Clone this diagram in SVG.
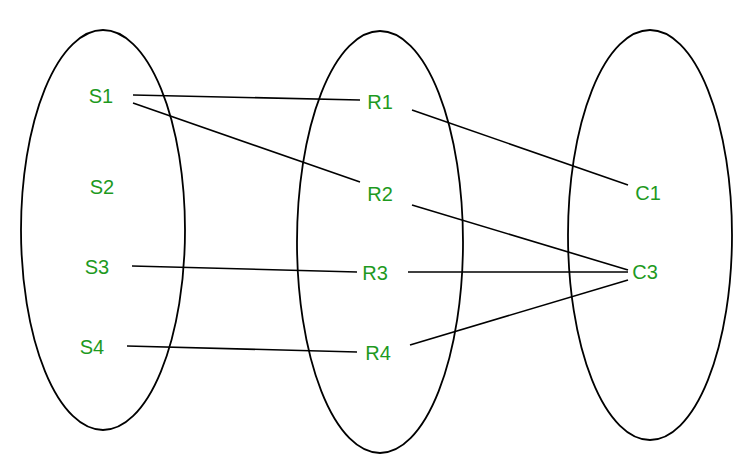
<svg xmlns="http://www.w3.org/2000/svg" width="754" height="459" viewBox="0 0 754 459">
<style>
.e{fill:none;stroke:#000;stroke-width:1.8}
.c line{stroke:#000;stroke-width:1.6}
text{font-family:"Liberation Sans",Arial,sans-serif;font-size:20px;fill:#1e9a1e;text-anchor:middle;dominant-baseline:central}
</style>
<rect width="754" height="459" fill="#fff"/>
<g id="setS"><ellipse class="e" cx="103" cy="230" rx="82" ry="200"/></g>
<g id="setR"><ellipse class="e" cx="380" cy="242" rx="83" ry="211"/></g>
<g id="setC"><ellipse class="e" cx="650" cy="235" rx="82" ry="205"/></g>
<g class="c" id="connectors">
<line x1="133" y1="95" x2="360" y2="100"/>
<line x1="133" y1="103" x2="360" y2="182"/>
<line x1="412" y1="110" x2="628" y2="185"/>
<line x1="412" y1="205" x2="628" y2="270"/>
<line x1="132" y1="266" x2="357" y2="272"/>
<line x1="408" y1="272" x2="628" y2="272"/>
<line x1="127" y1="346" x2="357" y2="352"/>
<line x1="410" y1="345" x2="628" y2="280"/>
</g>
<g id="S1"><text x="101" y="96">S1</text></g>
<g id="S2"><text x="102" y="187">S2</text></g>
<g id="S3"><text x="97" y="267">S3</text></g>
<g id="S4"><text x="92" y="347">S4</text></g>
<g id="R1"><text x="380" y="102">R1</text></g>
<g id="R2"><text x="380" y="194">R2</text></g>
<g id="R3"><text x="375" y="273">R3</text></g>
<g id="R4"><text x="378" y="353">R4</text></g>
<g id="C1"><text x="648" y="193">C1</text></g>
<g id="C3"><text x="645" y="272">C3</text></g>
</svg>
